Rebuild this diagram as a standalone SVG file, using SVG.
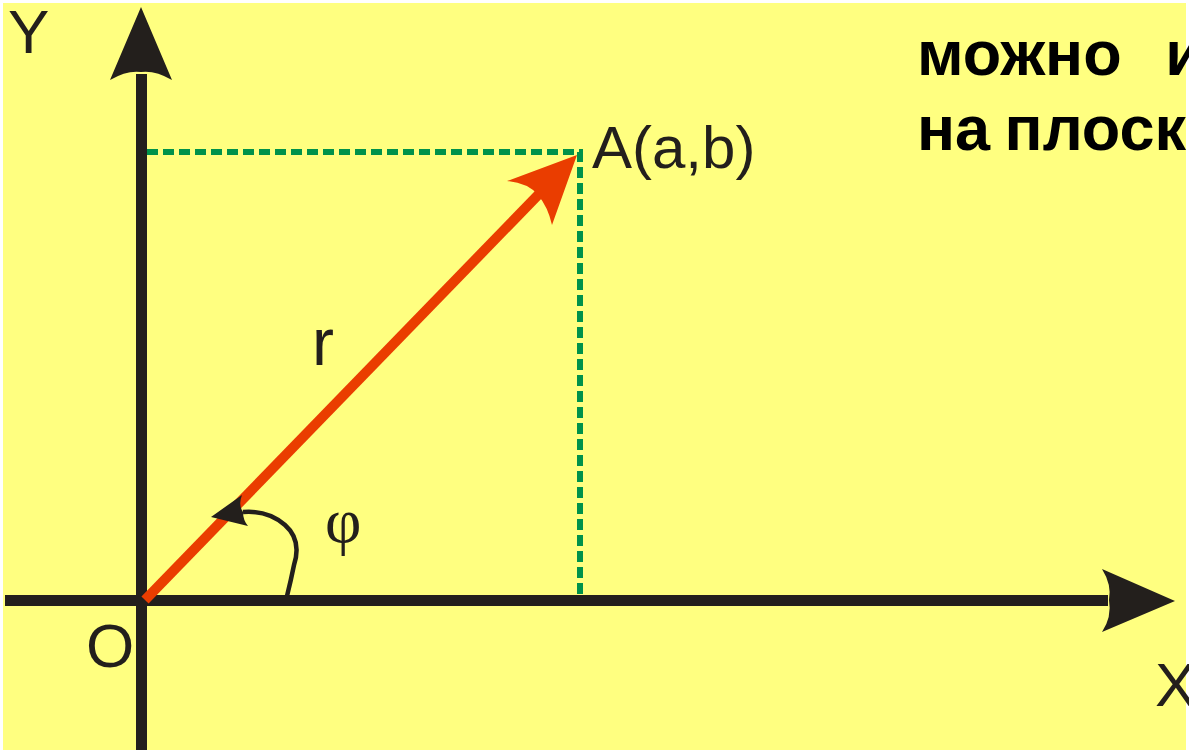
<svg xmlns="http://www.w3.org/2000/svg" width="1189" height="750" viewBox="0 0 1189 750">
<defs>
<style>
.lbl{font-family:"Liberation Sans",Arial,sans-serif;font-size:62px;fill:#231F1C}
.big{font-family:"Liberation Sans",Arial,sans-serif;font-size:63px;font-weight:bold;fill:#000;white-space:pre;word-spacing:-3px}
.axis{stroke:#231F1C;stroke-width:11;fill:none}
.dash{stroke:#00924A;stroke-width:6;fill:none;stroke-dasharray:11 5}
.head{fill:#231F1C}
</style>
</defs>
<rect x="0" y="0" width="1189" height="750" fill="#FFFFFF"/>
<rect x="3" y="3" width="1183" height="747" fill="#FFFF80"/>
<g id="connectors">
<path class="dash" d="M147,152 H580 V596"/>
<line class="axis" x1="141.5" y1="74" x2="141.5" y2="750"/>
<line class="axis" x1="5" y1="600.5" x2="1108" y2="600.5"/>
<path class="head" d="M141,7 L172,80 Q155,70 141,72 Q127,70 110,80 Z"/>
<path class="head" d="M1175,601 L1102,569 Q1112,585 1109,600 Q1112,617 1102,632 Z"/>
<line x1="145" y1="600" x2="540" y2="193" stroke="#EA3D00" stroke-width="10"/>
<path d="M577,155 L507,181 Q528,183 538,195 Q548,207 552,225 Z" fill="#EA3D00"/>
<path d="M287,596 Q291,580 294,565 Q302,540 285,525 Q268,510 243,512" fill="none" stroke="#231F1C" stroke-width="4.5"/>
<path class="head" d="M211,517 L242,495 Q238,505 243,512 Q243,520 248,526 Z"/>
</g>
<g id="label-Y"><text class="lbl" x="8" y="53">Y</text></g>
<g id="label-X"><text class="lbl" x="1155" y="706">X</text></g>
<g id="label-O"><text class="lbl" x="86" y="667">O</text></g>
<g id="label-A"><text class="lbl" x="592" y="168" style="font-size:60px">A(a,b)</text></g>
<g id="label-r"><text class="lbl" x="312" y="365" style="font-size:66px">r</text></g>
<g id="label-phi"><text x="325" y="542" style="font-family:'Liberation Serif','Times New Roman',serif;font-size:63px;fill:#231F1C">φ</text></g>
<g id="title">
<text class="big" x="917" y="75">можно   и</text>
<text class="big" x="917" y="150">на плоск</text>
</g>
</svg>
